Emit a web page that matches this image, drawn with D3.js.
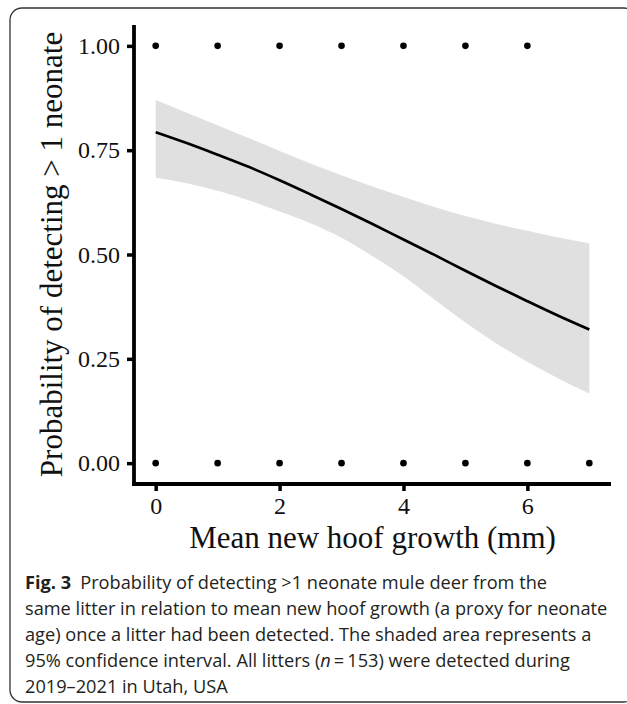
<!DOCTYPE html>
<html>
<head>
<meta charset="utf-8">
<script src="https://cdn.jsdelivr.net/npm/d3@7"></script>
<style>
  html, body { margin: 0; padding: 0; background: #fff; }
  svg { display: block; }
</style>
</head>
<body>
<svg id="chart" width="627" height="704"></svg>
<script>
// ---- data ----
const hoofGrowth = [0, 0.5, 1, 1.5, 2, 2.5, 3, 3.5, 4, 4.5, 5, 5.5, 6, 6.5, 7];
const fittedProb = [0.793, 0.767, 0.739, 0.710, 0.678, 0.644, 0.609, 0.573, 0.536, 0.499, 0.461, 0.424, 0.388, 0.353, 0.320];
const ciUpper    = [0.870, 0.840, 0.810, 0.779, 0.748, 0.718, 0.690, 0.663, 0.638, 0.614, 0.592, 0.573, 0.557, 0.541, 0.527];
const ciLower    = [0.684, 0.671, 0.653, 0.630, 0.603, 0.575, 0.540, 0.496, 0.448, 0.392, 0.337, 0.287, 0.243, 0.203, 0.167];
const obsDetectedX = [0, 1, 2, 3, 4, 5, 6];      // observations at probability 1
const obsNotDetectedX = [0, 1, 2, 3, 4, 5, 6, 7]; // observations at probability 0
const xTickValues = [0, 2, 4, 6];
const yTickValues = [0, 0.25, 0.5, 0.75, 1];
const yTickLabels = ["0.00", "0.25", "0.50", "0.75", "1.00"];
const xTitle = "Mean new hoof growth (mm)";
const yTitle = "Probability of detecting > 1 neonate";

const svg = d3.select("#chart");

// frame
svg.append("rect")
  .attr("x", 10).attr("y", 8).attr("width", 626).attr("height", 694)
  .attr("rx", 12).attr("ry", 12)
  .attr("fill", "none").attr("stroke", "#333").attr("stroke-width", 1.3);

const x = d3.scaleLinear().domain([-0.35, 7.35]).range([134, 611]);
const y = d3.scaleLinear().domain([-0.05, 1.05]).range([484, 25]);

const serif = "'Liberation Serif', 'Times New Roman', serif";

// confidence band
const band = hoofGrowth.map((g, i) => ({g, lo: ciLower[i], hi: ciUpper[i], p: fittedProb[i]}));
svg.append("path")
  .datum(band)
  .attr("fill", "#e0e0e0")
  .attr("d", d3.area().x(d => x(d.g)).y0(d => y(d.lo)).y1(d => y(d.hi)).curve(d3.curveMonotoneX));

// fitted line
svg.append("path")
  .datum(band)
  .attr("fill", "none").attr("stroke", "#000").attr("stroke-width", 2.7)
  .attr("d", d3.line().x(d => x(d.g)).y(d => y(d.p)).curve(d3.curveMonotoneX));

// points
svg.append("g").selectAll("circle").data(obsDetectedX).join("circle")
  .attr("cx", d => x(d)).attr("cy", y(1)).attr("r", 3.3).attr("fill", "#000");
svg.append("g").selectAll("circle").data(obsNotDetectedX).join("circle")
  .attr("cx", d => x(d)).attr("cy", y(0)).attr("r", 3.3).attr("fill", "#000");

// axes
const xAxis = d3.axisBottom(x).tickValues(xTickValues).tickFormat(d3.format("d"))
  .tickSize(7).tickPadding(6).tickSizeOuter(0);
const gx = svg.append("g").attr("transform", "translate(0,484)").call(xAxis);
const yAxis = d3.axisLeft(y).tickValues(yTickValues).tickFormat((d, i) => yTickLabels[i])
  .tickSize(7).tickPadding(7).tickSizeOuter(0);
const gy = svg.append("g").attr("transform", "translate(134,0)").call(yAxis);

[gx, gy].forEach(g => {
  g.select(".domain").attr("stroke", "#000").attr("stroke-width", 3.8);
  g.selectAll(".tick line").attr("stroke", "#000").attr("stroke-width", 3.5);
  g.selectAll(".tick text").attr("fill", "#111").style("font-family", serif).style("font-size", "24px");
});
// extend axis lines to meet at the corner
gx.select(".domain").attr("d", `M${134 - 1.9},0H611`);
gy.select(".domain").attr("d", `M0,25V${484 + 1.9}`);

// axis titles
svg.append("text")
  .attr("x", x(3.5)).attr("y", 548)
  .attr("text-anchor", "middle")
  .style("font-family", serif).style("font-size", "31px").attr("fill", "#111")
  .text(xTitle);
svg.append("text")
  .attr("transform", `translate(62,${(25 + 484) / 2}) rotate(-90)`)
  .attr("text-anchor", "middle")
  .style("font-family", serif).style("font-size", "31px").attr("fill", "#111")
  .text(yTitle);

// caption
const capFont = "'Open Sans', 'Noto Sans', sans-serif";
const capLines = [
  [{t: "Fig. 3", b: true}, {t: "\u2002Probability of detecting >1 neonate mule deer from the"}],
  [{t: "same litter in relation to mean new hoof growth (a proxy for neonate"}],
  [{t: "age) once a litter had been detected. The shaded area represents a"}],
  [{t: "95% confidence interval. All litters ("}, {t: "n", i: true}, {t: "\u2009=\u2009153) were detected during"}],
  [{t: "2019\u20132021 in Utah, USA"}]
];
const capG = svg.append("g").attr("fill", "#231f20").style("font-family", capFont);
const texts = capLines.map((segs, li) => {
  const t = capG.append("text").attr("x", 25).attr("y", 589 + li * 26);
  segs.forEach(s => {
    t.append("tspan").text(s.t)
      .style("font-weight", s.b ? "700" : "400")
      .style("font-style", s.i ? "italic" : "normal");
  });
  return t;
});
// fit caption font size so line 2 spans as in the reference (~583px)
let size = 17;
texts.forEach(t => t.style("font-size", size + "px"));
const w = texts[1].node().getComputedTextLength();
size = size * 583 / w;
texts.forEach(t => t.style("font-size", size.toFixed(2) + "px"));
</script>
</body>
</html>
